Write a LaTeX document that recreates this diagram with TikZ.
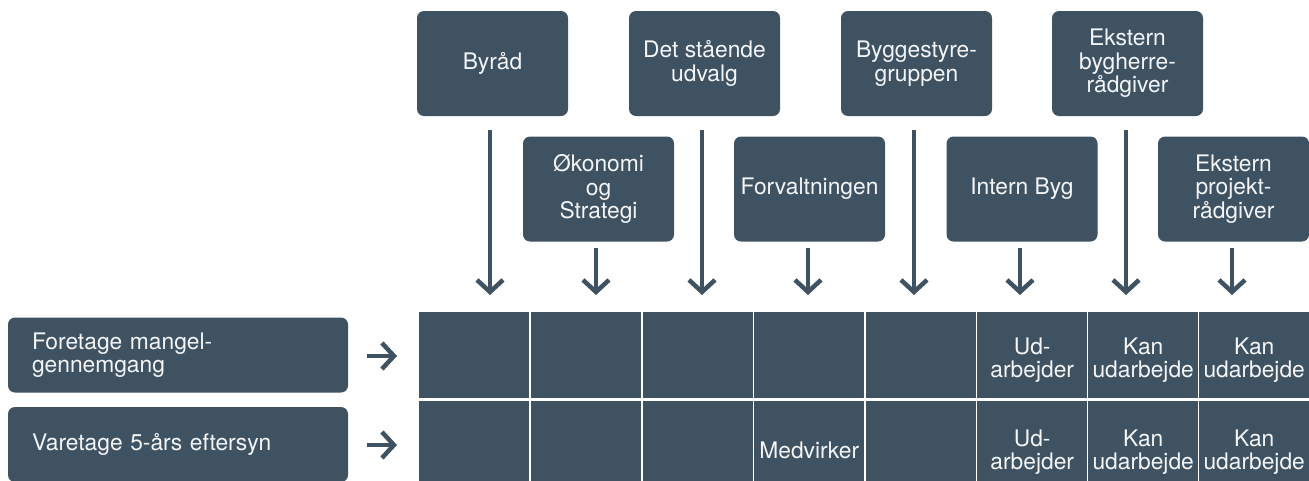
\documentclass[tikz,border=0pt]{standalone}
\usepackage{fontspec}
\setmainfont{TeX Gyre Heros}
\usetikzlibrary{arrows.meta}
\definecolor{slate}{HTML}{3E5262}
\definecolor{txt}{HTML}{F3F5F6}
\begin{document}
\begin{tikzpicture}[x=1pt,y=-1pt,
  every node/.style={font=\fontsize{22.8}{23.5}\selectfont, text=txt, inner sep=0pt},
  rolebox/.style={fill=slate, rounded corners=7pt, minimum width=151pt,
    minimum height=105pt, align=center},
  taskbox/.style={fill=slate, rounded corners=7pt, minimum width=340pt,
    minimum height=75pt, text width=292pt, align=left},
  cell/.style={fill=slate, minimum width=110pt, minimum height=86pt, anchor=north west},
  celltext/.style={align=center},
  arr/.style={draw=slate, line width=4.5pt, line join=miter,
    -{Straight Barb[length=12pt,width=26pt]}},
]
\useasboundingbox (0,0) rectangle (1309,480);
\clip (0,0) rectangle (1309,480);

% upper row of roles
\node[rolebox] (byrad)  at (492.5,63.5)  {Byråd};
\node[rolebox] (udvalg) at (704.5,63.5)  {Det stående\\udvalg};
\node[rolebox] (bsg)    at (916.5,63.5)  {Byggestyre-\\gruppen};
\node[rolebox] (ebr)    at (1127.5,63.5) {Ekstern\\bygherre-\\rådgiver};

% lower row of roles
\node[rolebox] (oes)    at (598.5,189)   {Økonomi\\og\\Strategi};
\node[rolebox] (forv)   at (809.5,189)   {Forvaltningen};
\node[rolebox] (ib)     at (1022,189)    {Intern Byg};
\node[rolebox] (epr)    at (1233.5,189)  {Ekstern\\projekt-\\rådgiver};

% arrow tips above the table
\coordinate (t1) at (490,295);
\coordinate (t2) at (596,295);
\coordinate (t3) at (702,295);
\coordinate (t4) at (808,295);
\coordinate (t5) at (914,295);
\coordinate (t6) at (1020,295);
\coordinate (t7) at (1126,295);
\coordinate (t8) at (1232,295);

\draw[arr, shorten <=14pt] (byrad.south -| t1) -- (t1);
\draw[arr, shorten <=14pt] (udvalg.south -| t3) -- (t3);
\draw[arr, shorten <=14pt] (bsg.south -| t5) -- (t5);
\draw[arr, shorten <=14pt] (ebr.south -| t7) -- (t7);
\draw[arr, shorten <=6pt] (oes.south -| t2) -- (t2);
\draw[arr, shorten <=6pt] (forv.south -| t4) -- (t4);
\draw[arr, shorten <=6pt] (ib.south -| t6) -- (t6);
\draw[arr, shorten <=6pt] (epr.south -| t8) -- (t8);

% tasks on the left
\node[taskbox] (fore) at (178,355)   {Foretage mangel-\\gennemgang};
\node[taskbox] (vare) at (178,444.5) {Varetage 5-års eftersyn};

\coordinate (h1) at (397,356);
\coordinate (h2) at (397,445);
\draw[arr, shorten <=19pt] (fore.east |- h1) -- (h1);
\draw[arr, shorten <=19pt] (vare.east |- h2) -- (h2);

% table of responsibilities
\foreach \c/\x in {1/419,2/531,3/643,4/754,5/866,6/977,7/1088,8/1199}{
  \node[cell] (r1c\c) at (\x,312) {};
  \node[cell] (r2c\c) at (\x,401) {};
}

\node[celltext] at ([yshift=-5pt]r1c6.center) {Ud-\\arbejder};
\node[celltext] at ([yshift=-5pt]r1c7.center) {Kan\\udarbejde};
\node[celltext] at ([yshift=-5pt]r1c8.center) {Kan\\udarbejde};
\node[celltext] at ([yshift=-6pt]r2c4.center) {Medvirker};
\node[celltext] at ([yshift=-8pt]r2c6.center) {Ud-\\arbejder};
\node[celltext] at ([yshift=-8pt]r2c7.center) {Kan\\udarbejde};
\node[celltext] at ([yshift=-8pt]r2c8.center) {Kan\\udarbejde};
\end{tikzpicture}
\end{document}
